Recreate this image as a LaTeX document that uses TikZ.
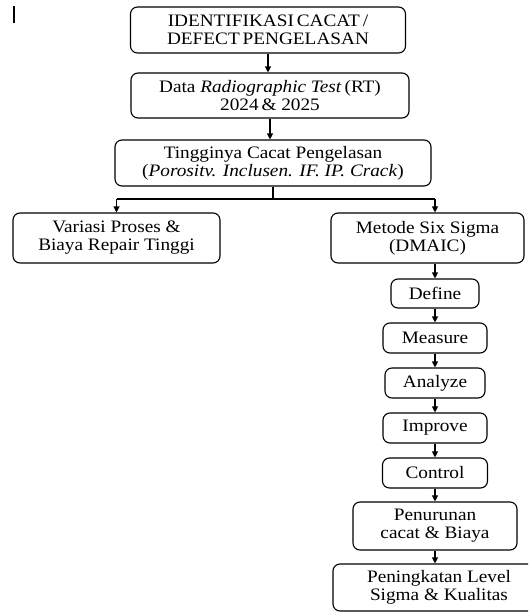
\documentclass[tikz,border=0pt]{standalone}
\usepackage{fontspec}
\setmainfont{Liberation Serif}[FakeStretch=1.1]
\usetikzlibrary{arrows.meta}

\begin{document}
\begin{tikzpicture}[x=1pt, y=-1pt,
  flowbox/.style={draw, line width=1.1pt, rounded corners=7pt, align=center, inner sep=0pt, font=\fontsize{17.5}{18}\selectfont},
  flowarrow/.style={line width=1.1pt, -{Triangle[width=6pt,length=6pt]}}]
\pgfmathsetmacro{\colR}{435}

\useasboundingbox (0,0) rectangle (528,613);
\clip (0,0) rectangle (528,613);

\draw[line width=1.5pt] (14,6) -- (14,23); % cursor mark

% main column
\node[flowbox, minimum width=275pt, minimum height=46pt] (ident) at (268,30) {IDENTIFIKASI\,CACAT\,/\\DEFECT\,PENGELASAN};
\node[flowbox, minimum width=278pt, minimum height=45pt] (data) at (270,95.5) {Data \textit{Radiographic Test}\,(RT)\\2024\,\& 2025};
\node[flowbox, minimum width=316pt, minimum height=46pt] (tinggi) at (273,163) {Tingginya Cacat Pengelasan\\(\textit{Porositv. Inclusen. IF. IP. Crack})};

% two branches
\node[flowbox, minimum width=207pt, minimum height=50pt] (variasi) at (116.5,238) {Variasi Proses \&\\Biaya Repair Tinggi};
\node[flowbox, minimum width=193pt, minimum height=50pt] (sixsigma) at (427.5,238) {Metode Six Sigma\\(DMAIC)};

% DMAIC steps
\node[flowbox, minimum width=88pt, minimum height=29pt] (define) at (\colR,293.5) {Define};
\node[flowbox, minimum width=104pt, minimum height=30pt] (measure) at (\colR,338) {Measure};
\node[flowbox, minimum width=100pt, minimum height=30pt] (analyze) at (\colR,383) {Analyze};
\node[flowbox, minimum width=104pt, minimum height=30pt] (improve) at (\colR,428) {Improve};
\node[flowbox, minimum width=105pt, minimum height=30pt] (control) at (\colR,473) {Control};
\node[flowbox, minimum width=164pt, minimum height=48pt] (turun) at (\colR,526) {Penurunan\\cacat \& Biaya};
\node[flowbox, minimum width=212pt, minimum height=47pt] (naik) at (439,587.5) {Peningkatan Level\\Sigma \& Kualitas};

\draw[flowarrow] (ident.south) -- (ident.south |- data.north);
\draw[flowarrow] (data.south) -- (data.south |- tinggi.north);

\coordinate (branchL) at (116.5,199);
\coordinate (branchR) at (\colR,199);
\draw[line width=1.1pt] (tinggi.south) -- (tinggi.south |- branchL);
\draw[line width=1.1pt] (branchL) -- (branchR);
\draw[flowarrow] (branchL) -- (variasi.north);
\draw[flowarrow] (branchR) -- (branchR |- sixsigma.north);

\draw[flowarrow] (define.north |- sixsigma.south) -- (define.north);
\foreach \upper/\lower in {define/measure, measure/analyze, analyze/improve, improve/control, control/turun}
  \draw[flowarrow] (\upper.south) -- (\lower.north);
\draw[flowarrow] (turun.south) -- (turun.south |- naik.north);
\end{tikzpicture}
\end{document}
